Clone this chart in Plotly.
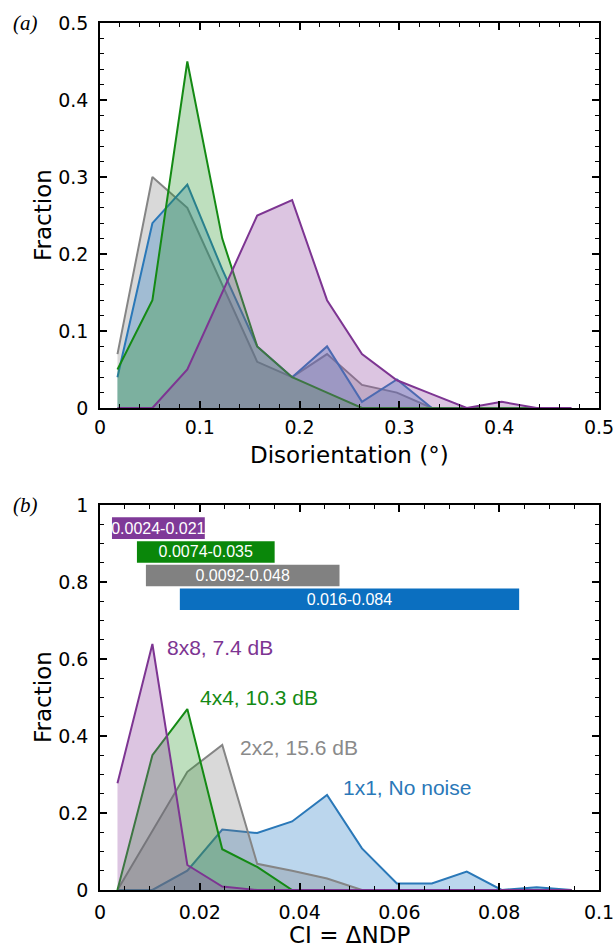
import plotly.graph_objects as go

# ---------------- Data ----------------
# Panel (a): disorientation histograms
dis_x = [0.0175, 0.0525, 0.0875, 0.1225, 0.1575, 0.1925, 0.2275, 0.2625,
         0.2975, 0.3325, 0.3675, 0.4025, 0.4375, 0.4725]
dis_gray = [0.07, 0.30, 0.26, 0.16, 0.06, 0.04, 0.07, 0.03, 0.02, 0.0]
dis_blue = [0.04, 0.24, 0.29, 0.18, 0.08, 0.04, 0.08, 0.008, 0.037, 0.0]
dis_green = [0.05, 0.14, 0.45, 0.22, 0.08, 0.04, 0.02, 0.0, 0.0, 0.0, 0.0, 0.0, 0.0]
dis_purple = [0.0, 0.0, 0.05, 0.15, 0.25, 0.27, 0.14, 0.07, 0.036, 0.018, 0.0, 0.008, 0.0, 0.0]

# Panel (b): CI histograms
ci_x = [0.0035, 0.0105, 0.0175, 0.0245, 0.0315, 0.0385, 0.0455, 0.0525,
        0.0595, 0.0665, 0.0735, 0.0805, 0.0875, 0.0945]
ci_blue = [0.0, 0.0, 0.05, 0.157, 0.148, 0.178, 0.247, 0.108, 0.017, 0.017, 0.048, 0.0, 0.007, 0.0]
ci_gray = [0.0, 0.155, 0.307, 0.377, 0.068, 0.05, 0.03, 0.0, 0.0, 0.0, 0.0, 0.0, 0.0, 0.0]
ci_green = [0.0, 0.35, 0.47, 0.106, 0.06, 0.0, 0.0, 0.0, 0.0, 0.0, 0.0, 0.0, 0.0, 0.0]
ci_purple = [0.277, 0.639, 0.065, 0.009, 0.0, 0.0, 0.0, 0.0, 0.0, 0.0, 0.0, 0.0, 0.0, 0.0]

# CI ranges (bars)
range_start = [0.0024, 0.0074, 0.0092, 0.016]
range_end = [0.021, 0.035, 0.048, 0.084]
range_level = [0.94, 0.878, 0.817, 0.755]
range_text = ["0.0024-0.021", "0.0074-0.035", "0.0092-0.048", "0.016-0.084"]

series_labels = ["8x8, 7.4 dB", "4x4, 10.3 dB", "2x2, 15.6 dB", "1x1, No noise"]
label_x = [0.013, 0.0196, 0.0277, 0.0483]
label_y = [0.629, 0.499, 0.369, 0.265]

# ---------------- Styles ----------------
C_PURPLE = "#7d3592"
C_GREEN = "#148a14"
C_GRAY = "#858585"
C_BLUE = "#2a78b8"
F_PURPLE = "rgba(150,80,165,0.33)"
F_GREEN = "rgba(40,150,40,0.30)"
F_GRAY = "rgba(120,120,120,0.28)"
F_BLUE = "rgba(50,130,200,0.33)"
BAR_COLORS = ["#7f3a98", "#0a870a", "#818181", "#0b6fc0"]
LBL_COLORS = ["#7d3592", "#148a14", "#8a8a8a", "#2a78b8"]
SANS = "Liberation Sans, Arial"
TICKF = "DejaVu Sans"

fig = go.Figure()


def add_area(x, y, line, fill, xa, ya):
    fig.add_trace(go.Scatter(
        x=x[:len(y)], y=y, mode="lines", fill="tozeroy",
        line=dict(color=line, width=2), fillcolor=fill,
        xaxis=xa, yaxis=ya, showlegend=False, hoverinfo="skip"))


# Panel (a)
add_area(dis_x, dis_gray, C_GRAY, F_GRAY, "x", "y")
add_area(dis_x, dis_blue, C_BLUE, F_BLUE, "x", "y")
add_area(dis_x, dis_green, C_GREEN, F_GREEN, "x", "y")
add_area(dis_x, dis_purple, C_PURPLE, F_PURPLE, "x", "y")

# Panel (b)
add_area(ci_x, ci_blue, C_BLUE, F_BLUE, "x2", "y2")
add_area(ci_x, ci_gray, C_GRAY, F_GRAY, "x2", "y2")
add_area(ci_x, ci_green, C_GREEN, F_GREEN, "x2", "y2")
add_area(ci_x, ci_purple, C_PURPLE, F_PURPLE, "x2", "y2")

# Range bars
fig.add_trace(go.Bar(
    y=range_level,
    x=[e - s for s, e in zip(range_start, range_end)],
    base=range_start, orientation="h", width=0.056,
    marker=dict(color=BAR_COLORS, line=dict(width=0)),
    text=range_text, textposition="inside", insidetextanchor="middle",
    constraintext="none",
    textfont=dict(color="white", size=16, family=SANS),
    xaxis="x2", yaxis="y2", showlegend=False, hoverinfo="skip"))

# Series labels
for t, xx, yy, c in zip(series_labels, label_x, label_y, LBL_COLORS):
    fig.add_annotation(x=xx, y=yy, xref="x2", yref="y2", text=t,
                       showarrow=False, xanchor="left", yanchor="middle",
                       font=dict(size=21, color=c, family=SANS))

# Panel letters
for t, yy in [("<i>(a)</i>", 23), ("<i>(b)</i>", 505)]:
    fig.add_annotation(x=25 / 616, y=1 - yy / 950, xref="paper", yref="paper", text=t,
                       showarrow=False, xanchor="center", yanchor="middle",
                       font=dict(size=21, color="black", family="Liberation Serif"))

# Axis titles (as paper annotations for exact placement)
titles = [
    ("Disorientation (°)", 349.5, 455, 0),
    ("CI = ΔNDP", 349.5, 935, 0),
    ("Fraction", 43, 215, -90),
    ("Fraction", 43, 697, -90),
]
for t, px, py, ang in titles:
    fig.add_annotation(x=px / 616, y=1 - py / 950, xref="paper", yref="paper", text=t,
                       showarrow=False, xanchor="center", yanchor="middle", textangle=ang,
                       font=dict(size=23, color="black", family=TICKF))

axis_common = dict(showline=True, linecolor="black", linewidth=1.5, mirror="allticks",
                   ticks="inside", ticklen=7, tickwidth=1.5, tickcolor="black",
                   showgrid=False, zeroline=False, automargin=False,
                   tickfont=dict(size=19, family=TICKF, color="black"))
minor_common = dict(ticks="inside", ticklen=4, tickwidth=1.2, tickcolor="black", showgrid=False)

xd = [100 / 616, 599 / 616]
fig.update_layout(
    width=616, height=950, margin=dict(l=0, r=0, t=0, b=0),
    plot_bgcolor="white", paper_bgcolor="white",
    barmode="overlay",
    xaxis=dict(domain=xd, range=[0, 0.5], tickvals=[0, 0.1, 0.2, 0.3, 0.4, 0.5],
               ticktext=["0", "0.1", "0.2", "0.3", "0.4", "0.5"],
               minor=dict(dtick=0.02, tick0=0, **minor_common), anchor="y",
               ticklabelstandoff=1, **axis_common),
    yaxis=dict(domain=[1 - 408 / 950, 1 - 23 / 950], range=[0, 0.5],
               tickvals=[0, 0.1, 0.2, 0.3, 0.4, 0.5],
               ticktext=["0", "0.1", "0.2", "0.3", "0.4", "0.5"],
               minor=dict(dtick=0.02, tick0=0, **minor_common), anchor="x",
               ticklabelstandoff=6, **axis_common),
    xaxis2=dict(domain=xd, range=[0, 0.1], tickvals=[0, 0.02, 0.04, 0.06, 0.08, 0.1],
                ticktext=["0", "0.02", "0.04", "0.06", "0.08", "0.1"],
                minor=dict(dtick=0.005, tick0=0, **minor_common), anchor="y2",
                ticklabelstandoff=4, **axis_common),
    yaxis2=dict(domain=[1 - 890 / 950, 1 - 505 / 950], range=[0, 1],
                tickvals=[0, 0.2, 0.4, 0.6, 0.8, 1],
                ticktext=["0", "0.2", "0.4", "0.6", "0.8", "1"],
                minor=dict(dtick=0.05, tick0=0, **minor_common), anchor="x2",
                ticklabelstandoff=6, **axis_common),
)

fig.write_html("out.html")
